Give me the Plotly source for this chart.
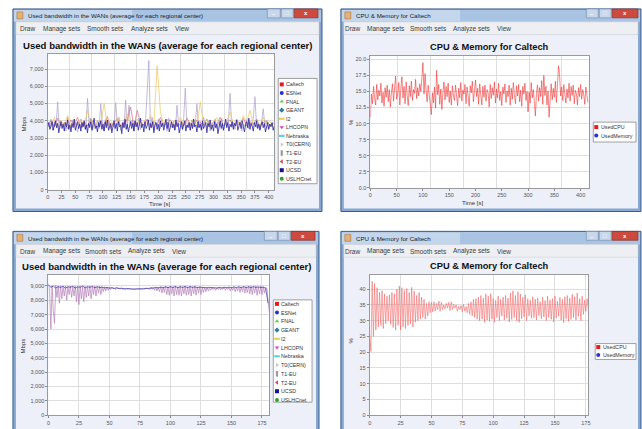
import plotly.graph_objects as go

W, H = 642, 429

# ---------------- data ----------------
# Top-left: Used bandwidth (Mbps)
bw1_step = 2
bw1_ucsd = [3650, 3900, 3500, 3800, 3950, 3450, 3750, 4000, 3600, 3850,
            3300, 3700, 3950, 3550, 3800, 3400, 3900, 3650, 4050, 3500,
            3750, 3350, 3850, 3600, 4100, 3450, 3700, 3950, 3550, 3800,
            3400, 3900, 3650, 4000, 3500, 3750, 3300, 3850, 3600, 3950,
            3450, 3800, 4150, 3550, 3700, 3350, 3900, 3650, 4000, 3500,
            3800, 3400, 3950, 3600, 4050, 3450, 3750, 3850, 3300, 3700,
            4000, 3550, 3850, 3400, 3950, 3650, 3750, 3250, 3900, 3600,
            4100, 3500, 3800, 3350, 3700, 3950, 3550, 3850, 3400, 4000,
            3650, 3900, 3450, 3750, 4150, 3600, 3800, 3350, 3950, 3550,
            3700, 4050, 3450, 3850, 3600, 3950, 3300, 3750, 3900, 3500,
            3800, 3400, 4000, 3650, 3850, 3450, 3700, 4100, 3550, 3900,
            3350, 3750, 3950, 3600, 3800, 3450, 4050, 3650, 3850, 3300,
            3700, 3950, 3500, 3800, 4000, 3400, 3750, 3600, 3900, 3450,
            3850, 3550, 4100, 3650, 3750, 3350, 3950, 3600, 3800, 3450,
            4000, 3550, 3700, 3900, 3300, 3850, 3650, 4050, 3500, 3750,
            3400, 3950, 3600, 3800, 3250, 3700, 4000, 3550, 3850, 3450,
            3750, 4100, 3600, 3900, 3400, 3800, 3650, 3950, 3500, 3850,
            3700, 4050, 3450, 3750, 3900, 3550, 4000, 3650, 3350, 3800,
            3950, 3600, 4150, 3500, 3850, 3700, 3400, 3900, 3650, 4000,
            3550, 3800, 3450, 3750, 3950, 3600, 3850, 3350, 3700, 3900,
            3500, 3800, 3650, 3900, 3450, 3700]
bw1_step_b = 3
bw1_t0cern = [3850, 3600, 4100, 3450, 3950, 3700, 5100, 3550, 4000, 3650,
              3900, 3400, 4200, 3750, 3550, 4050, 3650, 3900, 3350, 3800,
              4100, 3600, 3950, 3500, 5300, 3700, 4150, 3450, 3850, 3650,
              4000, 3550, 5000, 3800, 3400, 4100, 3700, 3950, 3500, 3850,
              3650, 5050, 3750, 4200, 3450, 3900, 3600, 5200, 3550, 4900,
              3700, 4050, 3400, 3950, 3650, 4150, 3500, 3850, 3750, 4000,
              5800, 7500, 3600, 4200, 3450, 3900, 3700, 4100, 3550, 3850,
              3650, 4000, 3400, 4150, 3750, 3600, 3950, 3500, 4900, 3700,
              3850, 3550, 4100, 5900, 3650, 3900, 3450, 4050, 3700, 3800,
              5000, 3600, 3950, 3500, 4200, 3750, 3650, 4000, 3400, 3850,
              3700, 4100, 3550, 3900, 3650, 4150, 3450, 3800, 3700, 4000,
              5600, 3600, 3850, 3500, 4100, 3750, 3950, 3400, 3800, 3650,
              4050, 3550, 3900, 3700, 4150, 5400, 3600, 3850, 3500, 3950,
              4700, 3650, 4000, 3550, 3800, 3700, 3900]
bw1_step_c = 6
bw1_i2 = [3900, 3700, 4200, 3600, 4000, 3800, 4300, 3650, 3950, 3750,
          4100, 3700, 4600, 3850, 3650, 4050, 3800, 5000, 3700, 3950,
          3800, 4200, 3650, 4000, 4400, 3750, 3900, 4100, 3700, 4000,
          3850, 4300, 3700, 7200, 4500, 3800, 4100, 3650, 4000, 3900,
          4200, 3750, 4000, 3850, 4100, 3700, 5100, 3800, 4050, 3650,
          3950, 4200, 3800, 3700, 4000, 4500, 3850, 4100, 3750, 4300,
          3900, 4600, 3800, 4000, 3700, 4200, 3850, 3950, 3750]
bw1_t2eu = [3800, 4000, 3650, 4150, 3700, 3900, 3550, 4050, 3750, 4200,
            3600, 3950, 3700, 4100, 3800, 3650, 4000, 3750, 4250, 3600,
            3900, 4100, 3700, 3850, 4050, 4800, 3650, 4600, 3900, 3750,
            4100, 3650, 3950, 3800, 4200, 3700, 3900, 4050, 3600, 3850,
            4000, 3700, 4150, 3800, 3650, 4050, 3900, 3750, 4100, 3600,
            3950, 3800, 4200, 3700, 3900, 4050, 3650, 4000, 3850, 4150,
            3700, 3950, 3800, 4100, 3650, 3900, 4000, 3750, 3850]

# Top-right: CPU (%) every 2 s
cpu1_step = 2
cpu1_used = [11.0, 14.6, 13.1, 15.8, 14.0, 12.9, 16.1, 13.7, 15.2, 14.3,
             16.3, 13.2, 14.9, 12.7, 15.6, 14.1, 16.0, 13.4, 15.3, 12.6,
             14.8, 16.2, 13.5, 15.1, 17.4, 13.8, 14.6, 16.4, 12.9, 15.5,
             17.3, 14.0, 15.8, 13.1, 16.5, 14.4, 12.8, 15.9, 14.2, 16.6,
             13.6, 15.3, 14.7, 16.9, 13.9, 15.6, 14.3, 16.2, 15.0, 17.1,
             19.5, 14.6, 17.8, 15.2, 13.4, 16.0, 14.1, 12.5, 11.4, 14.8,
             13.2, 15.7, 12.4, 18.3, 14.5, 16.1, 13.0, 15.4, 12.2, 14.9,
             16.5, 13.7, 15.8, 14.2, 16.3, 13.3, 15.1, 12.9, 15.9, 14.4,
             13.6, 16.0, 14.7, 12.8, 15.5, 14.0, 16.4, 13.5, 15.2, 14.6,
             16.1, 13.1, 15.7, 14.3, 12.7, 15.9, 14.8, 16.6, 13.4, 15.0,
             16.8, 14.2, 15.5, 13.0, 16.2, 14.5, 12.9, 15.8, 14.1, 16.0,
             13.5, 15.3, 14.8, 12.6, 16.1, 13.9, 15.6, 14.4, 16.5, 13.2,
             15.4, 14.0, 16.3, 13.6, 15.0, 12.8, 15.7, 14.6, 16.2, 13.3,
             15.1, 14.2, 16.0, 12.9, 15.5, 13.8, 16.4, 14.5, 13.1, 15.9,
             14.3, 16.1, 13.4, 15.2, 12.7, 15.8, 14.6, 16.3, 13.6, 15.0,
             11.8, 14.9, 13.2, 16.4, 14.0, 15.3, 12.5, 11.2, 14.7, 16.0,
             13.5, 15.6, 14.2, 16.7, 13.0, 17.5, 14.4, 15.8, 12.9, 15.1,
             11.0, 14.6, 16.2, 13.7, 15.5, 14.1, 16.6, 13.3, 15.9, 19.0,
             17.6, 14.3, 15.7, 13.6, 16.1, 14.8, 13.2, 15.4, 14.0, 16.3,
             13.5, 15.8, 14.4, 16.0, 13.1, 15.2, 14.7, 12.9, 15.6, 14.2,
             16.1, 13.8, 15.3, 14.5, 13.0, 15.7, 14.6, 13.3]

# Bottom-left: Used bandwidth (Mbps), LHCOPN every 1 s, UCSD every 2 s
bw2_lhcopn = [9150, 8700, 6000, 9000, 7300, 6400, 9050, 8200, 9000, 7800,
              9000, 8100, 8950, 8300, 9000, 8000, 8950, 8400, 9000, 8200,
              8950, 8300, 9000, 7900, 8950, 7700, 9000, 8100, 8950, 7900,
              9000, 8200, 8950, 8300, 9000, 8100, 8950, 8400, 9000, 8300,
              8950, 8500, 9000, 8400, 8950, 8600, 8950, 8650, 8900, 8700,
              8900, 8750, 8900, 8800, 8850, 8750, 8900, 8800, 8850, 8800,
              8850, 8780, 8820, 8750, 8800, 8780, 8820, 8760, 8800, 8770,
              8800, 8750, 8790, 8760, 8800, 8770, 8820, 8760, 8830, 8780,
              8850, 8770, 8860, 8750, 8880, 8760, 8900, 8700, 8900, 8650,
              8920, 8600, 8950, 8500, 8950, 8550, 8980, 8400, 8950, 8350,
              9000, 8450, 8950, 8300, 9000, 8400, 8950, 8350, 9000, 8300,
              8950, 8450, 9000, 8350, 8950, 8400, 9000, 8300, 8950, 8450,
              9000, 8350, 8950, 8500, 8950, 8400, 8900, 8550, 8900, 8600,
              8900, 8650, 8880, 8700, 8900, 8750, 8880, 8700, 8870, 8750,
              8900, 8720, 8880, 8760, 8900, 8700, 8880, 8750, 8900, 8650,
              8900, 8700, 8920, 8600, 8900, 8650, 8930, 8550, 8950, 8600,
              8950, 8500, 8950, 8550, 8980, 8450, 9000, 8400, 8950, 8500,
              9000, 8350, 8950, 8450, 9000, 8400, 8950, 8500, 8900, 8850,
              7900, 7200]
bw2_ucsd = [9100, 8900, 9000, 8850, 8950, 8900, 8980, 8850, 8950, 8900,
            8980, 8850, 8950, 8900, 9000, 8850, 8950, 8900, 8980, 8870,
            8950, 8880, 8920, 8860, 8900, 8850, 8880, 8830, 8870, 8820,
            8840, 8800, 8820, 8790, 8810, 8780, 8800, 8790, 8810, 8800,
            8840, 8820, 8870, 8850, 8900, 8860, 8920, 8870, 8940, 8880,
            8950, 8890, 8960, 8870, 8940, 8900, 8960, 8880, 8950, 8900,
            8940, 8880, 8920, 8890, 8910, 8870, 8900, 8880, 8910, 8860,
            8900, 8870, 8910, 8880, 8920, 8870, 8940, 8880, 8950, 8870,
            8960, 8880, 8950, 8870, 8960, 8890, 8940, 8880, 8920, 8850,
            7800]

# Bottom-right: CPU (%) every 1 s
cpu2_used = [25.5, 20.2, 42.5, 25.0, 41.8, 27.0, 40.5, 28.0, 39.0, 28.5,
             39.5, 27.5, 38.5, 29.0, 37.8, 30.0, 38.2, 28.8, 39.0, 27.8,
             38.5, 27.0, 40.0, 28.5, 41.0, 27.0, 40.5, 28.0, 39.6, 27.5,
             40.2, 28.5, 39.0, 29.0, 40.6, 28.0, 39.4, 29.5, 38.0, 30.0,
             39.0, 30.5, 37.5, 31.0, 36.8, 30.5, 35.5, 31.5, 36.0, 32.5,
             35.8, 32.8, 36.0, 33.0, 35.5, 33.5, 36.2, 33.0, 35.8, 33.5,
             35.0, 33.8, 35.5, 34.0, 35.8, 33.2, 36.0, 33.5, 35.2, 34.0,
             35.0, 33.0, 34.6, 33.5, 34.8, 32.8, 35.2, 33.0, 34.5, 32.5,
             35.5, 32.0, 36.0, 31.5, 36.8, 31.0, 37.0, 30.5, 37.5, 30.0,
             38.0, 30.5, 37.2, 29.5, 38.5, 30.2, 37.8, 29.8, 38.6, 30.5,
             37.0, 29.5, 36.5, 31.0, 37.8, 30.0, 36.8, 31.5, 37.5, 30.2,
             38.0, 30.8, 37.2, 29.6, 38.8, 30.4, 39.5, 31.0, 38.0, 30.0,
             39.2, 29.5, 38.4, 30.6, 37.5, 31.2, 38.2, 30.0, 37.0, 31.5,
             36.5, 30.8, 37.6, 31.0, 36.8, 30.2, 37.2, 31.6, 36.0, 30.6,
             37.5, 31.2, 36.4, 30.0, 37.8, 31.0, 36.6, 30.4, 37.0, 29.6,
             37.8, 30.8, 36.2, 31.4, 37.4, 30.2, 36.8, 29.4, 37.6, 30.6,
             38.0, 29.8, 37.2, 30.4, 38.4, 31.0, 37.6, 30.2, 38.8, 31.4,
             37.0, 30.0, 37.8, 32.0, 36.5, 33.0, 37.0, 34.0]

bw_legend_names = ["Caltech", "ESNet", "FNAL", "GEANT", "I2", "LHCOPN",
                   "Nebraska", "T0(CERN)", "T1-EU", "T2-EU", "UCSD", "USLHCnet"]
bw_legend_colors = ["#e01e1e", "#2233d8", "#66cc55", "#2a7f99", "#e8cf55", "#e040d0",
                    "#55d6e6", "#cfc4d4", "#9a9a9a", "#d84055", "#14148e", "#2aa52a"]
bw_legend_symbols = ["square", "circle", "triangle-up", "diamond", "line-ew", "triangle-down",
                     "line-ew", "triangle-right", "line-ns", "triangle-left", "square", "circle"]
cpu_legend_names = ["UsedCPU", "UsedMemory"]
cpu_legend_colors = ["#e01e1e", "#2233d8"]
cpu_legend_symbols = ["square", "circle"]

menu_items = ["Draw", "Manage sets", "Smooth sets", "Analyze sets", "View"]
bw_title = "Used bandwidth in the WANs (average for each regional center)"
cpu_title = "CPU & Memory for Caltech"

# ---------------- helpers ----------------
def fx(x):
    return x / W


def fy(y):
    return 1 - y / H


fig = go.Figure()
shapes = []
annos = []


def rect(x0, y0, x1, y1, fill, line=None, lw=0):
    shapes.append(dict(type="rect", xref="paper", yref="paper",
                       x0=fx(x0), x1=fx(x1), y0=fy(y1), y1=fy(y0),
                       fillcolor=fill, line=dict(color=line or fill, width=lw),
                       layer="below"))


def text(x, y, s, size, color="#222", bold=False, xanchor="left", angle=0,
         family="Liberation Sans"):
    if bold:
        s = "<b>" + s + "</b>"
    annos.append(dict(x=fx(x), y=fy(y), xref="paper", yref="paper", text=s,
                      showarrow=False, xanchor=xanchor, yanchor="middle",
                      textangle=angle, borderpad=0,
                      font=dict(size=size, color=color, family=family)))


def window(x0, y0, x1, y1, title, menu_x, btn_x, plot_box):
    # frame
    rect(x0, y0, x1, y1, "#86a7d0", "#3d5f8e", 1)
    rect(x0 + 1, y0 + 1, x1 - 1, y0 + 13, "#c3d6ec")
    rect(x0 + 120, y0 + 1, x1 - 1, y0 + 13, "#a9c3e3")
    # icon
    rect(x0 + 4, y0 + 3, x0 + 10, y0 + 10, "#e7b070", "#9a6a3a", 0.5)
    text(x0 + 14, y0 + 7, title, 6.2, "#1a1a1a")
    # buttons
    bmin, bmax, bclose, bend = btn_x
    rect(bmin, y0, bmax - 1, y0 + 9, "#c9d7ea", "#6f86a6", 0.6)
    rect(bmax, y0, bclose - 1, y0 + 9, "#c9d7ea", "#6f86a6", 0.6)
    rect(bclose, y0, bend, y0 + 9, "#cd4a3e", "#8a2a22", 0.6)
    text((bmin + bmax - 1) / 2, y0 + 5.5, "–", 6, "#ffffff", True, "center")
    text((bmax + bclose - 1) / 2, y0 + 4.5, "□", 6, "#ffffff", False, "center")
    text((bclose + bend) / 2, y0 + 4.5, "x", 6, "#ffffff", True, "center")
    # menu bar
    rect(x0 + 3, y0 + 13, x1 - 3, y0 + 26, "#eeeff2", "#c8ccd4", 0.6)
    for mx, item in zip(menu_x, menu_items):
        text(mx, y0 + 20, item, 6.5, "#3a3a3a")
    # content
    rect(x0 + 3, y0 + 26, x1 - 3, y1 - 3, "#eef0f9")
    # plot area
    px0, py0, px1, py1 = plot_box
    rect(px0, py0, px1, py1, "#ffffff")


# ---------------- windows ----------------
boxes = {
    "tl": (46, 54, 274, 191),
    "tr": (370.7, 56, 590.7, 189),
    "bl": (46.7, 277, 269, 418),
    "br": (370, 277, 590, 418),
}
window(11, 9, 322, 213, bw_title, [17, 40, 85, 129, 173], (267, 281, 294, 318), boxes["tl"])
window(341, 9, 643, 213, cpu_title, [344, 366, 410, 453, 497], (588, 601, 614, 640), boxes["tr"])
window(11, 233, 319, 445, bw_title, [17, 40, 83, 126, 170], (264, 278, 291, 315), boxes["bl"])
window(341, 233, 643, 445, cpu_title, [344, 366, 410, 453, 497], (588, 601, 614, 640), boxes["br"])

# chart titles
text(167, 46, bw_title, 9.6, "#111", True, "center")
text(491, 47, cpu_title, 9.3, "#111", True, "center")
text(166, 268, bw_title, 9.6, "#111", True, "center")
text(491, 268, cpu_title, 9.3, "#111", True, "center")
# axis titles
text(22.5, 125, "Mbps", 6, "#333", False, "center", -90)
text(351, 123, "%", 6, "#333", False, "center", -90)
text(21, 348, "Mbps", 6, "#333", False, "center", -90)
text(351, 343, "%", 6, "#333", False, "center", -90)
text(158, 205.5, "Time [s]", 6, "#333", False, "center")
text(473, 204, "Time [s]", 6, "#333", False, "center")

# ---------------- axes ----------------
base_ax = dict(showline=True, mirror=True, linecolor="#9a9a9a", linewidth=1,
               ticks="outside", ticklen=2, tickcolor="#8a8a8a", tickwidth=0.6,
               tickfont=dict(size=5.5, color="#555555", family="Liberation Sans"),
               zeroline=False, fixedrange=True, gridcolor="#dedede", gridwidth=0.6)


def set_axes(n, box, xr, xd, yr, yd, yfmt, xgrid=None):
    px0, py0, px1, py1 = box
    xa = dict(base_ax, domain=[fx(px0), fx(px1)], range=xr, dtick=xd, tick0=0,
              anchor="y%d" % n if n > 1 else "y")
    ya = dict(base_ax, domain=[fy(py1), fy(py0)], range=yr, dtick=yd, tick0=0,
              tickformat=yfmt, anchor="x%d" % n if n > 1 else "x", showgrid=True)
    if xgrid:
        xa["showgrid"] = False
        xa["minor"] = dict(tick0=xgrid[0], dtick=xgrid[1], showgrid=True,
                           gridcolor="#dedede", gridwidth=0.6, ticks="")
    else:
        xa["showgrid"] = True
    key = "" if n == 1 else str(n)
    fig.update_layout(**{"xaxis" + key: xa, "yaxis" + key: ya})


set_axes(1, boxes["tl"], [0, 410], 25, [0, 7900], 1000, ",d", (0, 40))
set_axes(2, boxes["tr"], [0, 416], 50, [0, 20.6], 2.5, ".1f", (52, 62.5))
set_axes(3, boxes["bl"], [0, 181], 25, [0, 9760], 1000, ",d")
set_axes(4, boxes["br"], [0, 177], 25, [0, 44.5], 5, "d")

# overlay pixel axis for legend symbols
fig.update_layout(
    xaxis5=dict(domain=[0, 1], range=[0, W], visible=False, fixedrange=True, anchor="y5"),
    yaxis5=dict(domain=[0, 1], range=[H, 0], visible=False, fixedrange=True, anchor="x5"),
)


def times(vals, step):
    return [i * step for i in range(len(vals))]


def line(vals, step, color, xa, ya, width=0.7):
    fig.add_trace(go.Scatter(x=times(vals, step), y=vals, mode="lines",
                             line=dict(color=color, width=width),
                             xaxis=xa, yaxis=ya, showlegend=False, hoverinfo="skip"))


# top-left
line(bw1_t0cern, bw1_step_b, "#aa9ecb", "x", "y")
line(bw1_t2eu, bw1_step_c, "#d86a7a", "x", "y")
line(bw1_i2, bw1_step_c, "#ecc65a", "x", "y")
line(bw1_ucsd, bw1_step, "#2a22a0", "x", "y", 0.8)
# top-right
line(cpu1_used, cpu1_step, "#ec3434", "x2", "y2", 0.6)
# bottom-left
line(bw2_lhcopn, 1, "#b57cb8", "x3", "y3")
line(bw2_ucsd, 2, "#3030a8", "x3", "y3")
# bottom-right
line(cpu2_used, 1, "#f06a6a", "x4", "y4", 0.6)


# ---------------- legends ----------------
def legend(box, names, colors, symbols, first_y, gap, mx, tx):
    rect(*box, "#ffffff", "#8a8a8a", 0.8)
    ys = [first_y + i * gap for i in range(len(names))]
    for name, c, s, y in zip(names, colors, symbols, ys):
        lw = 2.2 if s.startswith("line") else 0
        fig.add_trace(go.Scatter(x=[mx], y=[y], mode="markers", xaxis="x5", yaxis="y5",
                                 marker=dict(symbol=s, size=4, color=c,
                                             line=dict(color=c, width=lw)),
                                 showlegend=False, hoverinfo="skip"))
        text(tx, y, name, 5.3, "#333")


legend((278, 79, 317, 185), bw_legend_names, bw_legend_colors, bw_legend_symbols, 85, 8.64, 281.5, 284.5)
legend((273, 302, 312, 405), bw_legend_names, bw_legend_colors, bw_legend_symbols, 306, 8.8, 276.7, 279.7)
legend((595, 123, 638, 143), cpu_legend_names, cpu_legend_colors, cpu_legend_symbols, 128, 8.5, 598, 601.5)
legend((597, 346, 638, 362), cpu_legend_names, cpu_legend_colors, cpu_legend_symbols, 349.5, 8, 600, 603.5)

fig.update_layout(
    width=W, height=H, margin=dict(l=0, r=0, t=0, b=0),
    paper_bgcolor="#ffffff", plot_bgcolor="rgba(0,0,0,0)",
    showlegend=False, hovermode=False,
    shapes=shapes, annotations=annos,
    font=dict(family="Liberation Sans"),
)

fig.write_html("out.html", config={"displayModeBar": False},
               post_script="document.body.style.margin='0px';document.body.style.overflow='hidden';")
